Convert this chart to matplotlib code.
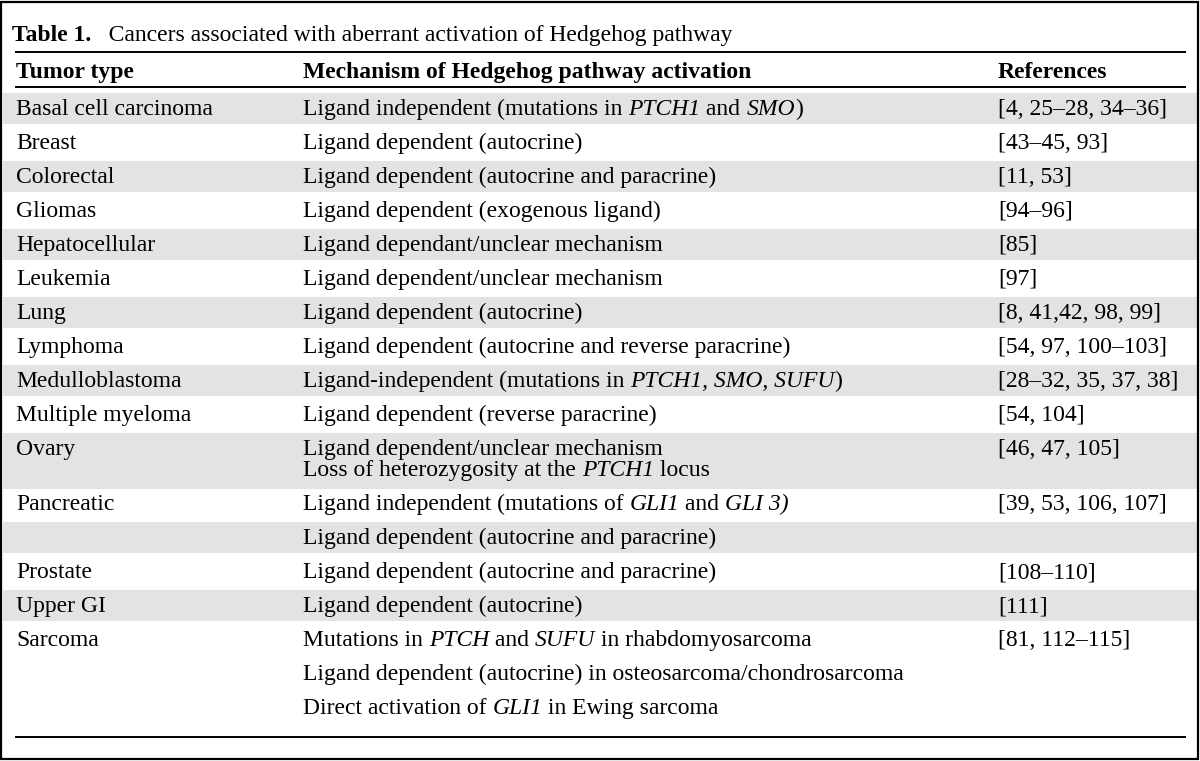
import matplotlib
matplotlib.use("Agg")

import matplotlib.pyplot as plt
from matplotlib.patches import Rectangle

plt.rcParams["font.family"] = ["Liberation Serif", "DejaVu Serif"]

# ---------------------------------------------------------------------------
# Table content (*...* marks italic gene names)
# ---------------------------------------------------------------------------
TITLE_BOLD = "Table 1."
TITLE_REST = "   Cancers associated with aberrant activation of Hedgehog pathway"
HEADERS = ["Tumor type", "Mechanism of Hedgehog pathway activation", "References"]

tumor_types = [
    "Basal cell carcinoma", "Breast", "Colorectal", "Gliomas", "Hepatocellular",
    "Leukemia", "Lung", "Lymphoma", "Medulloblastoma", "Multiple myeloma",
    "Ovary", "Pancreatic", "", "Prostate", "Upper GI", "Sarcoma", "", "",
]
mechanisms = [
    ["Ligand independent (mutations in *PTCH1* and *SMO*)"],
    ["Ligand dependent (autocrine)"],
    ["Ligand dependent (autocrine and paracrine)"],
    ["Ligand dependent (exogenous ligand)"],
    ["Ligand dependant/unclear mechanism"],
    ["Ligand dependent/unclear mechanism"],
    ["Ligand dependent (autocrine)"],
    ["Ligand dependent (autocrine and reverse paracrine)"],
    ["Ligand-independent (mutations in *PTCH1, SMO, SUFU*)"],
    ["Ligand dependent (reverse paracrine)"],
    ["Ligand dependent/unclear mechanism",
     "Loss of heterozygosity at the *PTCH1* locus"],
    ["Ligand independent (mutations of *GLI1* and *GLI 3)*"],
    ["Ligand dependent (autocrine and paracrine)"],
    ["Ligand dependent (autocrine and paracrine)"],
    ["Ligand dependent (autocrine)"],
    ["Mutations in *PTCH* and *SUFU* in rhabdomyosarcoma"],
    ["Ligand dependent (autocrine) in osteosarcoma/chondrosarcoma"],
    ["Direct activation of *GLI1* in Ewing sarcoma"],
]
references = [
    "[4, 25–28, 34–36]", "[43–45, 93]", "[11, 53]", "[94–96]", "[85]",
    "[97]", "[8, 41,42, 98, 99]", "[54, 97, 100–103]", "[28–32, 35, 37, 38]",
    "[54, 104]", "[46, 47, 105]", "[39, 53, 106, 107]", "", "[108–110]",
    "[111]", "[81, 112–115]", "", "",
]
shaded = [1, 0, 1, 0, 1, 0, 1, 0, 1, 0, 1, 0, 1, 0, 1, 0, 0, 0]

# ---------------------------------------------------------------------------
# Layout (pixels, y grows downward)
# ---------------------------------------------------------------------------
W, H = 1200, 761
FS = 17
COL_X = [16, 303, 998]
LINE_X0, LINE_X1 = 15, 1186
TITLE_Y, TITLE_RULE_Y = 34, 52
HEADER_Y, HEADER_RULE_Y = 71, 87
FIRST_ROW_Y = 108
ROW_PITCH = 34
WRAP_PITCH = 21
BOTTOM_RULE_Y = 737
BASELINE_SHIFT = 7
SHADE = "#e3e3e3"

fig = plt.figure(figsize=(W / 100, H / 100), dpi=100)
ax = fig.add_axes([0, 0, 1, 1])
ax.set_xlim(0, W)
ax.set_ylim(H, 0)
ax.axis("off")
renderer = fig.canvas.get_renderer()


def _advance(s, **style):
    """Horizontal advance of s in pixels, trailing/leading spaces included."""
    a = ax.text(0, 0, "|" + s + "|", fontsize=FS, **style)
    b = ax.text(0, 0, "||", fontsize=FS, **style)
    w = a.get_window_extent(renderer).width - b.get_window_extent(renderer).width
    a.remove()
    b.remove()
    return w


def draw_segments(x, y, segments):
    for s, style in segments:
        if s:
            ax.text(x, y, s, fontsize=FS, va="baseline", ha="left", **style)
            x += _advance(s, **style)


def rich(line):
    parts = line.split("*")
    return [(p, {"style": "italic"} if i % 2 else {}) for i, p in enumerate(parts)]


fig.patches.append(Rectangle((0.001, 0.002), 0.997, 0.996, transform=fig.transFigure,
                             fill=False, edgecolor="black", linewidth=1.6))

draw_segments(12, TITLE_Y + BASELINE_SHIFT,
              [(TITLE_BOLD, {"fontweight": "bold"}), (TITLE_REST, {})])
for x, h in zip(COL_X, HEADERS):
    ax.text(x, HEADER_Y + BASELINE_SHIFT, h, fontsize=FS, fontweight="bold",
            va="baseline", ha="left")

for y in (TITLE_RULE_Y, HEADER_RULE_Y, BOTTOM_RULE_Y):
    ax.plot([LINE_X0, LINE_X1], [y, y], color="black", linewidth=1.4,
            solid_capstyle="butt")

y = FIRST_ROW_Y
for tumor, mech, ref, shade in zip(tumor_types, mechanisms, references, shaded):
    extra = len(mech) - 1
    block_h = ROW_PITCH + WRAP_PITCH * extra
    if shade:
        ax.add_patch(Rectangle((3, y - 15), W - 5, 31 + (WRAP_PITCH + 4) * extra,
                               facecolor=SHADE, edgecolor="none", zorder=0))
    ax.text(COL_X[0], y + BASELINE_SHIFT, tumor, fontsize=FS, va="baseline")
    for i, line in enumerate(mech):
        draw_segments(COL_X[1], y + BASELINE_SHIFT + i * WRAP_PITCH, rich(line))
    ax.text(COL_X[2], y + BASELINE_SHIFT, ref, fontsize=FS, va="baseline")
    y += block_h

fig.savefig("out.png", dpi=100)
